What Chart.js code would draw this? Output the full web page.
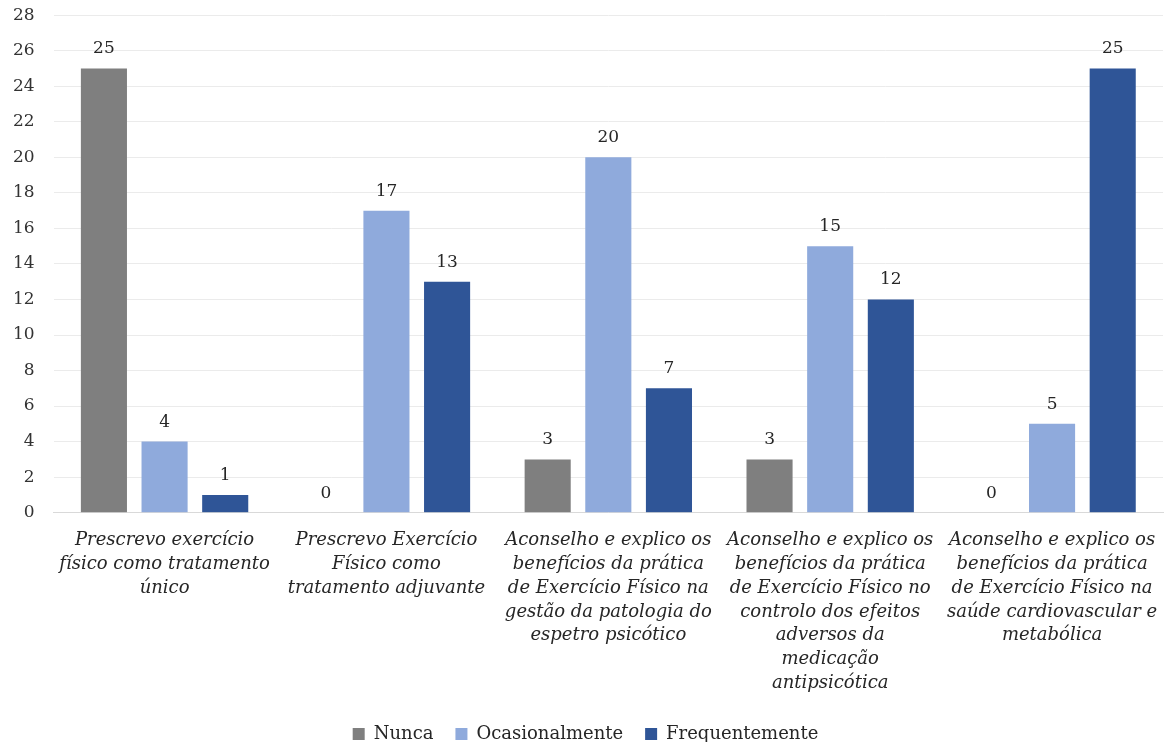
<!DOCTYPE html>
<html>
<head>
<meta charset="utf-8">
<script src="https://cdn.jsdelivr.net/npm/chart.js@4"></script>
<style>
  html, body { margin: 0; padding: 0; background: #fff; }
  #wrap { width: 1173px; height: 742px; position: relative; }
</style>
</head>
<body>
<div id="wrap"><canvas id="exercicioChart"></canvas></div>
<script>
// categorias (quebradas em linhas como no eixo)
const categorias = [
    ['Prescrevo exercício', 'físico como tratamento', 'único'],
    ['Prescrevo Exercício', 'Físico como', 'tratamento adjuvante'],
    ['Aconselho e explico os', 'benefícios da prática', 'de Exercício Físico na', 'gestão da patologia do', 'espetro psicótico'],
    ['Aconselho e explico os', 'benefícios da prática', 'de Exercício Físico no', 'controlo dos efeitos', 'adversos da', 'medicação', 'antipsicótica'],
    ['Aconselho e explico os', 'benefícios da prática', 'de Exercício Físico na', 'saúde cardiovascular e', 'metabólica']
];
const nunca = [25, 0, 3, 3, 0];
const ocasionalmente = [4, 17, 20, 15, 5];
const frequentemente = [1, 13, 7, 12, 25];
const yTicks = [0, 2, 4, 6, 8, 10, 12, 14, 16, 18, 20, 22, 24, 26, 28];

const serif = "'DejaVu Serif', 'Liberation Serif', serif";

// escreve o valor por cima de cada barra
const valorNasBarras = {
    id: 'valorNasBarras',
    afterDatasetsDraw(chart) {
        const ctx = chart.ctx;
        ctx.save();
        ctx.font = '17px ' + serif;
        ctx.fillStyle = '#262626';
        ctx.textAlign = 'center';
        ctx.textBaseline = 'bottom';
        chart.data.datasets.forEach((ds, i) => {
            const meta = chart.getDatasetMeta(i);
            meta.data.forEach((bar, j) => {
                ctx.fillText(ds.data[j], bar.x, bar.y - 11);
            });
        });
        ctx.restore();
    }
};

const ctx = document.getElementById('exercicioChart').getContext('2d');
new Chart(ctx, {
    type: 'bar',
    data: {
        labels: categorias,
        datasets: [
            { label: 'Nunca', data: nunca, backgroundColor: '#7f7f7f' },
            { label: 'Ocasionalmente', data: ocasionalmente, backgroundColor: '#8faadc' },
            { label: 'Frequentemente', data: frequentemente, backgroundColor: '#2f5597' }
        ]
    },
    options: {
        responsive: true,
        maintainAspectRatio: false,
        animation: false,
        layout: { padding: { top: 0, right: 10, left: 8, bottom: -11 } },
        datasets: {
            bar: { categoryPercentage: 0.82, barPercentage: 0.76 }
        },
        scales: {
            x: {
                grid: { display: false },
                border: { color: '#d9d9d9', width: 1 },
                ticks: {
                    autoSkip: false,
                    maxRotation: 0,
                    color: '#262626',
                    font: { family: serif, size: 18, style: 'italic', lineHeight: 1.32 },
                    padding: 8
                }
            },
            y: {
                min: 0,
                max: 28,
                afterBuildTicks: axis => { axis.ticks = yTicks.map(v => ({ value: v })); },
                // marcas invisíveis só para afastar os números da área do gráfico
                grid: { color: '#ebebeb', lineWidth: 1, drawTicks: true, tickLength: 14, tickColor: 'rgba(0,0,0,0)' },
                border: { display: false },
                ticks: {
                    color: '#333333',
                    font: { family: serif, size: 17 },
                    padding: 5
                }
            }
        },
        plugins: {
            legend: {
                position: 'bottom',
                labels: {
                    boxWidth: 12,
                    boxHeight: 12,
                    padding: 22,
                    color: '#262626',
                    font: { family: serif, size: 18 }
                }
            },
            tooltip: { enabled: false }
        }
    },
    plugins: [valorNasBarras]
});
</script>
</body>
</html>
